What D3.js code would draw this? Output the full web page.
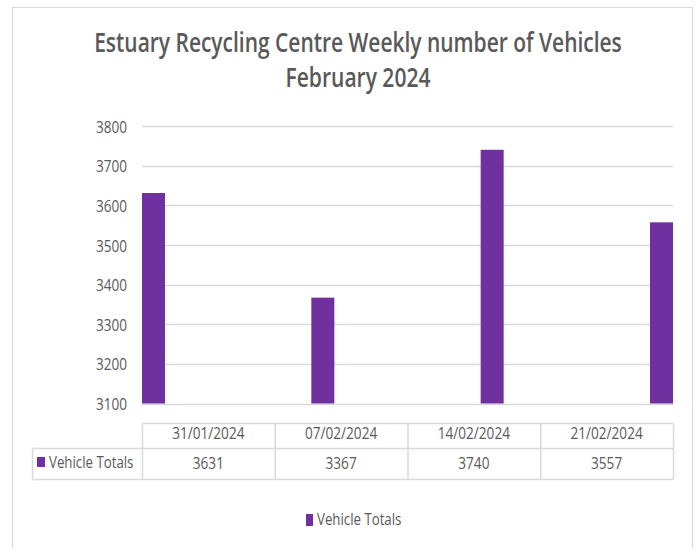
<!DOCTYPE html>
<html lang="en">
  <head>
    <meta charset="UTF-8" />
    <title>Estuary Recycling Centre</title>
    <script src="https://cdn.jsdelivr.net/npm/d3@7/dist/d3.min.js"></script>
    <style>
      html,
      body {
        margin: 0;
        padding: 0;
        background: #fff;
      }
      svg {
        display: block;
        font-family: 'Open Sans', sans-serif;
      }
    </style>
  </head>
  <body>
    <svg width="700" height="548"></svg>
    <script>
      const weeks = ['31/01/2024', '07/02/2024', '14/02/2024', '21/02/2024'];
      const vehicleTotals = [3631, 3367, 3740, 3557];
      const seriesName = 'Vehicle Totals';
      const yTicks = [3100, 3200, 3300, 3400, 3500, 3600, 3700, 3800];
      const titleLines = ['Estuary Recycling Centre Weekly number of Vehicles', 'February 2024'];

      const purple = '#7030a0';
      const textGrey = '#595959';
      const lineGrey = '#d9d9d9';

      const svg = d3.select('svg');

      // squeeze text horizontally around its own x, the source picture is narrow
      function squash(sel, k) {
        sel.each(function() {
          const x = +this.getAttribute('x') || 0;
          this.setAttribute('transform', `translate(${x},0) scale(${k},1) translate(${-x},0)`);
        });
      }

      // outer frame
      svg
        .append('rect')
        .attr('x', 12.5)
        .attr('y', 7.5)
        .attr('width', 680)
        .attr('height', 560)
        .attr('fill', 'none')
        .attr('stroke', lineGrey);

      // title, squeezed to the widths seen in the picture
      const titleWidths = [528, 145];
      const title = svg
        .selectAll('text.title')
        .data(titleLines)
        .enter()
        .append('text')
        .attr('class', 'title')
        .attr('x', 358)
        .attr('y', (d, i) => 52 + i * 35)
        .attr('text-anchor', 'middle')
        .attr('font-size', 27)
        .attr('font-weight', 600)
        .attr('fill', textGrey)
        .text(d => d);
      title.each(function(d, i) {
        const k = titleWidths[i] / this.getComputedTextLength();
        squash(d3.select(this), k);
      });

      const left = 142;
      const right = 673;
      const barW = 23;

      const y = d3
        .scaleLinear()
        .domain([3100, 3800])
        .range([403.5, 126]);

      const xBar = d3
        .scalePoint()
        .domain(weeks)
        .range([left, right - barW]);

      const xCol = d3
        .scaleBand()
        .domain(weeks)
        .range([left, right]);

      // gridlines
      svg
        .append('g')
        .selectAll('line')
        .data(yTicks)
        .enter()
        .append('line')
        .attr('x1', left)
        .attr('x2', right)
        .attr('y1', d => Math.round(y(d)) + 0.5)
        .attr('y2', d => Math.round(y(d)) + 0.5)
        .attr('stroke', lineGrey)
        .attr('stroke-width', 1.5);

      const yAxis = d3
        .axisLeft(y)
        .tickValues(yTicks)
        .tickSize(0)
        .tickPadding(0)
        .tickFormat(d3.format('d'));

      const yG = svg
        .append('g')
        .attr('transform', 'translate(127,0)')
        .call(yAxis);
      yG.select('.domain').remove();
      yG.selectAll('text')
        .attr('font-family', 'Open Sans')
        .attr('font-size', 17)
        .attr('fill', textGrey)
        .attr('dy', '0.36em');
      squash(yG.selectAll('text'), 0.8);

      // bars
      svg
        .append('g')
        .selectAll('rect')
        .data(vehicleTotals)
        .enter()
        .append('rect')
        .attr('x', (d, i) => xBar(weeks[i]))
        .attr('y', d => y(d))
        .attr('width', barW)
        .attr('height', d => y(3100) - y(d))
        .attr('fill', purple);

      // data table
      const rowTop = 423.5;
      const rowMid = 448.5;
      const rowBot = 479.5;
      const tableLeft = 32.5;

      const table = svg.append('g').attr('stroke', lineGrey).attr('stroke-width', 1.5);
      table
        .append('line')
        .attr('x1', left)
        .attr('x2', right)
        .attr('y1', rowTop)
        .attr('y2', rowTop);
      table
        .append('line')
        .attr('x1', tableLeft)
        .attr('x2', right)
        .attr('y1', rowMid)
        .attr('y2', rowMid);
      table
        .append('line')
        .attr('x1', tableLeft)
        .attr('x2', right)
        .attr('y1', rowBot)
        .attr('y2', rowBot);
      table
        .append('line')
        .attr('x1', tableLeft)
        .attr('x2', tableLeft)
        .attr('y1', rowMid)
        .attr('y2', rowBot);
      table
        .selectAll('line.col')
        .data(weeks.map(w => xCol(w)).concat([right]))
        .enter()
        .append('line')
        .attr('class', 'col')
        .attr('x1', d => d + 0.5)
        .attr('x2', d => d + 0.5)
        .attr('y1', rowTop)
        .attr('y2', rowBot);

      const header = svg
        .append('g')
        .selectAll('text')
        .data(weeks)
        .enter()
        .append('text')
        .attr('x', d => xCol(d) + xCol.bandwidth() / 2)
        .attr('y', 433)
        .attr('dy', '0.36em')
        .attr('text-anchor', 'middle')
        .attr('font-size', 17)
        .attr('fill', textGrey)
        .text(d => d);
      squash(header, 0.8);

      const cells = svg
        .append('g')
        .selectAll('text')
        .data(vehicleTotals)
        .enter()
        .append('text')
        .attr('x', (d, i) => xCol(weeks[i]) + xCol.bandwidth() / 2)
        .attr('y', 463)
        .attr('dy', '0.36em')
        .attr('text-anchor', 'middle')
        .attr('font-size', 17)
        .attr('fill', textGrey)
        .text(d => d);
      squash(cells, 0.8);

      svg
        .append('rect')
        .attr('x', 37)
        .attr('y', 457)
        .attr('width', 8)
        .attr('height', 10)
        .attr('fill', purple);
      const rowLabel = svg
        .append('text')
        .attr('x', 49)
        .attr('y', 462)
        .attr('dy', '0.36em')
        .attr('font-size', 17)
        .attr('fill', textGrey)
        .text(seriesName);
      squash(rowLabel, 0.78);

      // legend
      svg
        .append('rect')
        .attr('x', 306)
        .attr('y', 514)
        .attr('width', 7)
        .attr('height', 12)
        .attr('fill', purple);
      const legendText = svg
        .append('text')
        .attr('x', 317)
        .attr('y', 519)
        .attr('dy', '0.36em')
        .attr('font-size', 17)
        .attr('fill', textGrey)
        .text(seriesName);
      squash(legendText, 0.78);
    </script>
  </body>
</html>
